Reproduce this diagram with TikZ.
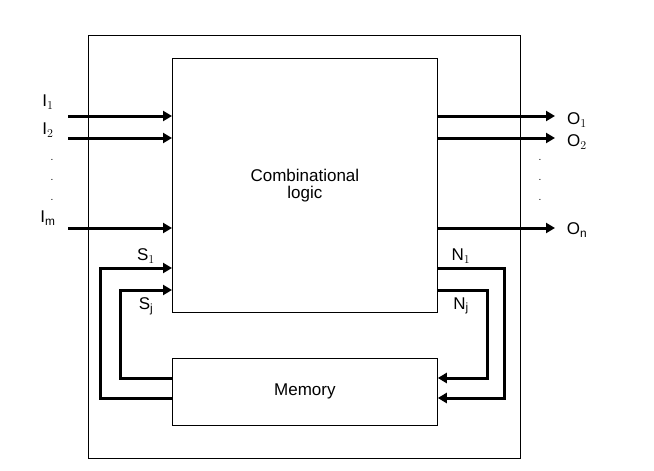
\documentclass[tikz,border=0pt]{standalone}
\usepackage{fontspec}
\setmainfont{Liberation Sans}
\usetikzlibrary{arrows.meta}
\begin{document}
\begin{tikzpicture}[x=1pt,y=-1pt,
  box/.style={draw=black, thick, fill=white, inner sep=0pt},
  sig/.style={draw=black, line width=3pt, -{Triangle[length=9pt,width=10pt]}},
  lbl/.style={font=\fontsize{17}{17}\selectfont}]
  \useasboundingbox (0,0) rectangle (654,471);
  \draw[thick] (88,35) rectangle (520,458);
  \node[box, minimum width=265pt, minimum height=254pt, anchor=north west] (comb) at (172,58) {};
  \node[lbl, align=center] at (comb.center) {Combinational\\logic};
  \node[box, minimum width=265pt, minimum height=67pt, anchor=north west] (mem) at (172,358) {};
  \node[lbl] at (mem.center) {Memory};
  % inputs
  \coordinate (i1) at (68,116);
  \coordinate (i2) at (68,138);
  \coordinate (im) at (68,228);
  \draw[sig] (i1) -- (comb.west |- i1);
  \draw[sig] (i2) -- (comb.west |- i2);
  \draw[sig] (im) -- (comb.west |- im);
  \node[lbl] at (48,102) {I$_1$};
  \node[lbl] at (48,130) {I$_2$};
  \node[lbl] at (48,218) {I$_\mathrm{m}$};
  \foreach \y in {160,180,200} \node at (52,\y) {.};
  % outputs
  \coordinate (o1) at (555,116);
  \coordinate (o2) at (555,138);
  \coordinate (on) at (555,228);
  \draw[sig] (comb.east |- o1) -- (o1);
  \draw[sig] (comb.east |- o2) -- (o2);
  \draw[sig] (comb.east |- on) -- (on);
  \node[lbl] at (577,120) {O$_1$};
  \node[lbl] at (577,142) {O$_2$};
  \node[lbl] at (577,230) {O$_\mathrm{n}$};
  \foreach \y in {160,180,200} \node at (540,\y) {.};
  % feedback
  \draw[sig] (mem.west |- 0,398) -| (100,268) -- (comb.west |- 0,268);
  \draw[sig] (mem.west |- 0,378) -| (120,290) -- (comb.west |- 0,290);
  \draw[sig] (comb.east |- 0,268) -| (504,398) -- (mem.east |- 0,398);
  \draw[sig] (comb.east |- 0,290) -| (487,378) -- (mem.east |- 0,378);
  \node[lbl] at (146,256) {S$_1$};
  \node[lbl] at (146,306) {S$_\mathrm{j}$};
  \node[lbl] at (461,256) {N$_1$};
  \node[lbl] at (461,306) {N$_\mathrm{j}$};
\end{tikzpicture}
\end{document}
